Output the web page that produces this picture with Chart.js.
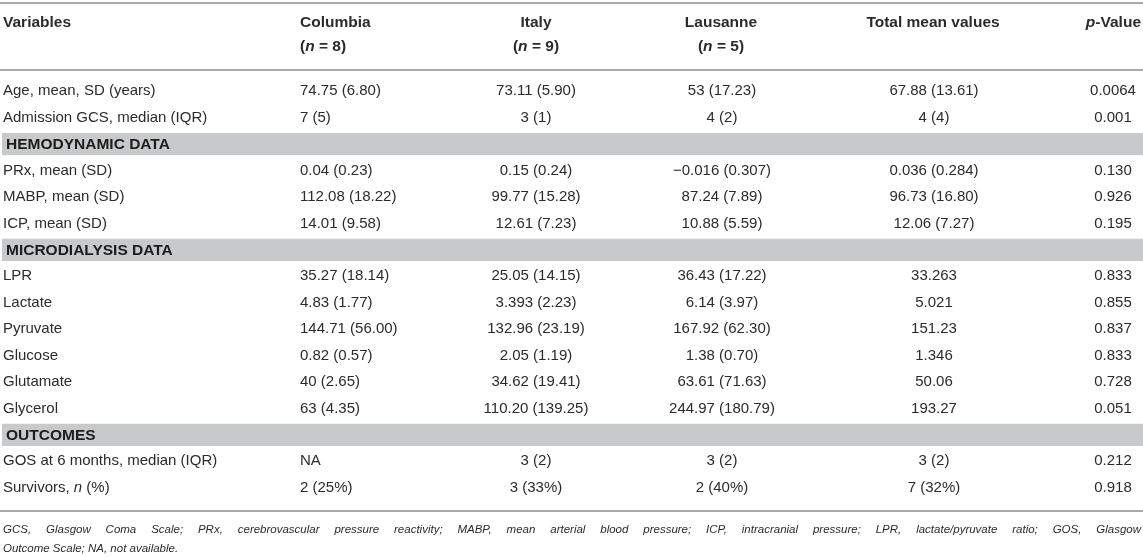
<!DOCTYPE html>
<html>
<head>
<meta charset="utf-8">
<script src="https://cdn.jsdelivr.net/npm/chart.js@4.4.0/dist/chart.umd.min.js"></script>
<style>
  html, body { margin: 0; padding: 0; background: #fff; }
  #wrap { position: relative; width: 1143px; height: 557px; }
</style>
</head>
<body>
<div id="wrap"><canvas id="tabla"></canvas></div>
<script>
// rows of the table (top to bottom)
const categories = [
    'Age, mean, SD (years)', 'Admission GCS, median (IQR)',
    'HEMODYNAMIC DATA',
    'PRx, mean (SD)', 'MABP, mean (SD)', 'ICP, mean (SD)',
    'MICRODIALYSIS DATA',
    'LPR', 'Lactate', 'Pyruvate', 'Glucose', 'Glutamate', 'Glycerol',
    'OUTCOMES',
    'GOS at 6 months, median (IQR)', 'Survivors, *n* (%)'
];
const sectionRows = ['HEMODYNAMIC DATA', 'MICRODIALYSIS DATA', 'OUTCOMES'];

const columnHeaders = ['Variables', 'Columbia', 'Italy', 'Lausanne', 'Total mean values', '*p*-Value'];
const subHeaders = ['', '(*n* = 8)', '(*n* = 9)', '(*n* = 5)', '', ''];

const columbia = ['74.75 (6.80)', '7 (5)', '', '0.04 (0.23)', '112.08 (18.22)', '14.01 (9.58)', '',
    '35.27 (18.14)', '4.83 (1.77)', '144.71 (56.00)', '0.82 (0.57)', '40 (2.65)', '63 (4.35)', '',
    'NA', '2 (25%)'];
const italy = ['73.11 (5.90)', '3 (1)', '', '0.15 (0.24)', '99.77 (15.28)', '12.61 (7.23)', '',
    '25.05 (14.15)', '3.393 (2.23)', '132.96 (23.19)', '2.05 (1.19)', '34.62 (19.41)', '110.20 (139.25)', '',
    '3 (2)', '3 (33%)'];
const lausanne = ['53 (17.23)', '4 (2)', '', '\u22120.016 (0.307)', '87.24 (7.89)', '10.88 (5.59)', '',
    '36.43 (17.22)', '6.14 (3.97)', '167.92 (62.30)', '1.38 (0.70)', '63.61 (71.63)', '244.97 (180.79)', '',
    '3 (2)', '2 (40%)'];
const totalMean = ['67.88 (13.61)', '4 (4)', '', '0.036 (0.284)', '96.73 (16.80)', '12.06 (7.27)', '',
    '33.263', '5.021', '151.23', '1.346', '50.06', '193.27', '',
    '3 (2)', '7 (32%)'];
const pValues = ['0.0064', '0.001', '', '0.130', '0.926', '0.195', '',
    '0.833', '0.855', '0.837', '0.833', '0.728', '0.051', '',
    '0.212', '0.918'];

const footnote = [
    'GCS, Glasgow Coma Scale; PRx, cerebrovascular pressure reactivity; MABP, mean arterial blood pressure; ICP, intracranial pressure; LPR, lactate/pyruvate ratio; GOS, Glasgow',
    'Outcome Scale; NA, not available.'
];

// layout
const FONT = '"Liberation Sans", Arial, sans-serif';
const TXT = '#2b2b2b';
const RULE = '#a9a9a9';
const BAND = '#c8c9cb';
const cols = [
    { x: 3, align: 'left' },
    { x: 300, align: 'left' },
    { x: 536, align: 'center' },
    { x: 722, align: 'center' },
    { x: 934, align: 'center' },
    { x: 1113, align: 'center' }
];
const headCols = [
    { x: 3, align: 'left' },
    { x: 300, align: 'left' },
    { x: 536, align: 'center' },
    { x: 721, align: 'center' },
    { x: 933, align: 'center' },
    { x: 1141, align: 'right' }
];

// text with *italic* parts
function drawRich(ctx, text, x, y, align, size, weight) {
    const parts = text.split('*');
    const fontOf = i => (i % 2 ? 'italic ' : '') + weight + ' ' + size + 'px ' + FONT;
    let w = 0;
    parts.forEach((p, i) => { ctx.font = fontOf(i); w += ctx.measureText(p).width; });
    let cx = align === 'left' ? x : align === 'right' ? x - w : x - w / 2;
    ctx.textAlign = 'left';
    parts.forEach((p, i) => {
        ctx.font = fontOf(i);
        ctx.fillText(p, cx, y);
        cx += ctx.measureText(p).width;
    });
}

function hline(ctx, y, x0, x1) {
    ctx.save();
    ctx.strokeStyle = RULE;
    ctx.lineWidth = 2;
    ctx.beginPath();
    ctx.moveTo(x0, y);
    ctx.lineTo(x1, y);
    ctx.stroke();
    ctx.restore();
}

const tablePlugin = {
    id: 'tablePlugin',
    afterDraw(chart) {
        const ctx = chart.ctx;
        const yS = chart.scales.y;
        const W = chart.width;
        ctx.save();
        ctx.fillStyle = TXT;
        ctx.textBaseline = 'middle';

        // rules
        hline(ctx, 3, 0, W);
        hline(ctx, yS.top - 8, 0, W);
        hline(ctx, yS.bottom + 10, 0, W);

        // header
        columnHeaders.forEach((h, i) => drawRich(ctx, h, headCols[i].x, 23, headCols[i].align, 15.5, 'bold'));
        subHeaders.forEach((h, i) => { if (h) drawRich(ctx, h, headCols[i].x, 47, headCols[i].align, 15.5, 'bold'); });

        // body
        const dataCols = [columbia, italy, lausanne, totalMean, pValues];
        categories.forEach((c, r) => {
            const y = yS.getPixelForValue(r);
            if (sectionRows.includes(c)) {
                ctx.fillStyle = '#1c1c1c';
                drawRich(ctx, c, cols[0].x + 3, y + 1, 'left', 15.5, 'bold');
                ctx.fillStyle = TXT;
                return;
            }
            drawRich(ctx, c, cols[0].x, y, 'left', 15, 'normal');
            dataCols.forEach((arr, k) => {
                drawRich(ctx, arr[r], cols[k + 1].x, y, cols[k + 1].align, 15, 'normal');
            });
        });

        // footnote, first line justified
        const fy = [yS.bottom + 29, yS.bottom + 48];
        ctx.font = 'italic 11.5px ' + FONT;
        ctx.textAlign = 'left';
        const words = footnote[0].split(' ');
        const sum = words.reduce((s, w) => s + ctx.measureText(w).width, 0);
        const gap = (W - 5 - sum) / (words.length - 1);
        let fx = 3;
        words.forEach(w => { ctx.fillText(w, fx, fy[0]); fx += ctx.measureText(w).width + gap; });
        ctx.fillText(footnote[1], 3, fy[1]);
        ctx.restore();
    }
};

const config = {
    type: 'bar',
    data: {
        labels: categories,
        datasets: [{
            label: 'sections',
            data: categories.map(c => sectionRows.includes(c) ? [0, 1] : null),
            backgroundColor: BAND,
            borderWidth: 0,
            barPercentage: 0.84,
            categoryPercentage: 1
        }]
    },
    options: {
        indexAxis: 'y',
        responsive: true,
        maintainAspectRatio: false,
        animation: false,
        layout: { padding: { top: 78, bottom: 56, left: 2, right: 0 } },
        plugins: { legend: { display: false }, tooltip: { enabled: false } },
        scales: {
            x: { type: 'linear', min: 0, max: 1, display: false },
            y: { type: 'category', display: false }
        }
    },
    plugins: [tablePlugin]
};

const chart = new Chart(document.getElementById('tabla'), config);
window.addEventListener('resize', function () { chart.resize() })
</script>
</body>
</html>
